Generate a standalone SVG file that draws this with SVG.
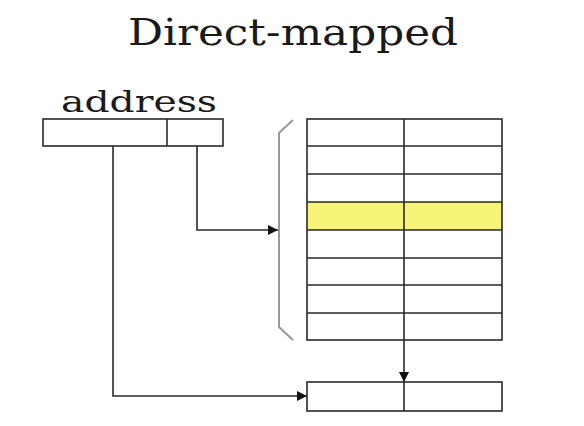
<svg xmlns="http://www.w3.org/2000/svg" width="584" height="426" viewBox="0 0 584 426">
<defs>
<style>
.t{font-family:"DejaVu Serif","Liberation Serif",serif;fill:#1a1a1a}
.box{fill:#fff;stroke:#2a2a2a;stroke-width:1.6}
.ln{fill:none;stroke:#2a2a2a;stroke-width:1.6}
.conn{fill:none;stroke:#2a2a2a;stroke-width:1.6}
</style>
<marker id="ah" viewBox="0 0 10 10" refX="10" refY="5" markerWidth="10" markerHeight="10" markerUnits="userSpaceOnUse" orient="auto">
<path d="M0,0 L10,5 L0,10 z" fill="#111"/>
</marker>
</defs>
<rect width="584" height="426" fill="#fff"/>
<text class="t" x="128" y="45" font-size="38" textLength="330" lengthAdjust="spacingAndGlyphs">Direct-mapped</text>
<g id="address">
<text class="t" x="61" y="112" font-size="29" textLength="156" lengthAdjust="spacingAndGlyphs">address</text>
<rect class="box" x="43" y="119" width="180" height="27"/>
<line class="ln" x1="167" y1="119" x2="167" y2="146"/>
</g>
<g id="cache">
<rect x="307" y="202" width="195" height="28" fill="#f8f47a"/>
<rect class="box" x="307" y="119" width="195" height="221" style="fill:none"/>
<path class="ln" d="M307,146H502M307,174H502M307,202H502M307,230H502M307,258H502M307,285H502M307,313H502M404,119V340"/>
<path d="M293,120 L280,132 L279,133 V327 L293,340" fill="none" stroke="#999" stroke-width="2"/>
</g>
<g id="output">
<rect class="box" x="307" y="382" width="195" height="29"/>
<line class="ln" x1="404" y1="382" x2="404" y2="411"/>
</g>
<g id="connectors">
<path class="conn" d="M197,146 V230 H278" marker-end="url(#ah)"/>
<path class="conn" d="M113,146 V396 H307" marker-end="url(#ah)"/>
<path class="conn" d="M404,340 V382" marker-end="url(#ah)"/>
</g>
</svg>
